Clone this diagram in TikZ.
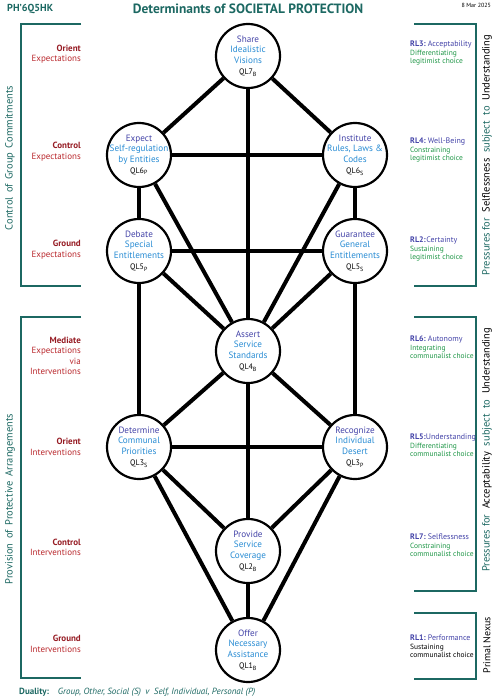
\documentclass[tikz,border=0pt]{standalone}
\usepackage{fontspec}
\setmainfont{PT Sans}
\usetikzlibrary{positioning}
\definecolor{tealdark}{RGB}{28,104,98}
\definecolor{reddark}{RGB}{150,28,36}
\definecolor{redlight}{RGB}{185,40,45}
\definecolor{bluedark}{RGB}{68,68,168}
\definecolor{bluelight}{RGB}{40,140,212}
\definecolor{greenchoice}{RGB}{30,150,70}
\tikzset{ql/.style={circle, draw, line width=2.2bp, minimum size=64bp, inner sep=0pt, fill=white},
  qltext/.style={align=center, text=bluelight, inner sep=0pt,
    font=\fontsize{9.2}{10.4}\selectfont},
  link/.style={line width=4bp},
  bracket/.style={draw=tealdark, line width=2bp},
  lefttag/.style={anchor=east, align=right, inner sep=0pt, text=redlight,
    font=\fontsize{9}{10.5}\selectfont},
  righttag/.style={anchor=west, align=left, inner sep=0pt, text=greenchoice,
    font=\fontsize{7.5}{8.3}\selectfont},
  sidetag/.style={rotate=90, inner sep=0pt, text=tealdark}}
\newcommand{\qlname}[2]{{\color{black}\fontsize{8}{9}\selectfont #1\textsubscript{#2}}}
\newcommand{\rlname}[2]{{\color{bluedark}\fontsize{8}{9.5}\selectfont\textbf{#1:}\ #2}}
\begin{document}
\begin{tikzpicture}[x=1bp, y=-1bp]
  \useasboundingbox (0,0) rectangle (495,700);
  % header
  \node[anchor=west, inner sep=0pt, text=tealdark, font=\bfseries\fontsize{10.2}{11}\selectfont]
    (code) at (7,9) {PH’6Q5HK};
  \node[inner sep=0pt, text=tealdark, font=\bfseries\fontsize{13.5}{15}\selectfont]
    (title) at (248,9) {Determinants of SOCIETAL PROTECTION};
  \node[anchor=east, inner sep=0pt, font=\fontsize{6}{7}\selectfont]
    (date) at (491,5) {8 Mar 2025};
  % tree
  \node[ql, label={[qltext]center:{\color{bluedark}Share\\Idealistic\\Visions\\[1pt]\qlname{QL7}{B}}}] (ql7) at (248,56) {};
  \node[ql, label={[qltext]center:{\color{bluedark}Expect\\Self-regulation\\by Entities\\[1pt]\qlname{QL6}{P}}}] (ql6p) at (139,155) {};
  \node[ql, label={[qltext]center:{\color{bluedark}Institute\\Rules, Laws \&\\Codes\\[1pt]\qlname{QL6}{S}}}] (ql6s) at (355,155) {};
  \node[ql, label={[qltext]center:{\color{bluedark}Debate\\Special\\Entitlements\\[1pt]\qlname{QL5}{P}}}] (ql5p) at (139,251) {};
  \node[ql, label={[qltext]center:{\color{bluedark}Guarantee\\General\\Entitlements\\[1pt]\qlname{QL5}{S}}}] (ql5s) at (355,251) {};
  \node[ql, label={[qltext]center:{\color{bluedark}Assert\\Service\\Standards\\[1pt]\qlname{QL4}{B}}}] (ql4) at (248,351) {};
  \node[ql, label={[qltext]center:{\color{bluedark}Determine\\Communal\\Priorities\\[1pt]\qlname{QL3}{S}}}] (ql3s) at (139,447) {};
  \node[ql, label={[qltext]center:{\color{bluedark}Recognize\\Individual\\Desert\\[1pt]\qlname{QL3}{P}}}] (ql3p) at (355,447) {};
  \node[ql, label={[qltext]center:{\color{bluedark}Provide\\Service\\Coverage\\[1pt]\qlname{QL2}{B}}}] (ql2) at (248,551) {};
  \node[ql, label={[qltext]center:{\color{bluedark}Offer\\Necessary\\Assistance\\[1pt]\qlname{QL1}{B}}}] (ql1) at (248,650) {};
  \foreach \a/\b in {ql7/ql6p, ql7/ql6s, ql7/ql4, ql6p/ql6s, ql6p/ql5p, ql6p/ql4,
      ql6s/ql5s, ql6s/ql4, ql5p/ql5s, ql5p/ql4, ql5p/ql3s, ql5s/ql4, ql5s/ql3p,
      ql4/ql3s, ql4/ql3p, ql4/ql2, ql3s/ql3p, ql3s/ql2, ql3s/ql1, ql3p/ql2,
      ql3p/ql1, ql2/ql1}
    \draw[link] (\a) -- (\b);
  % left brackets
  \draw[bracket] (81,24) -- (21,24) -- (21,286) -- (81,286);
  \draw[bracket] (81,317) -- (21,317) -- (21,678) -- (81,678);
  \node[sidetag, font=\fontsize{10.5}{12}\selectfont] (commit) at (10,158)
    {Control\ \,of\ \,Group\ \,Commitments};
  \node[sidetag, font=\fontsize{10.5}{12}\selectfont] (arrange) at (10,499)
    {Provision\ \,of\ \,Protective\ \,Arrangements};
  \node[lefttag] (orexp) at (81,54) {{\color{reddark}\bfseries Orient}\\Expectations};
  \node[lefttag] (coexp) at (81,151.5) {{\color{reddark}\bfseries Control}\\Expectations};
  \node[lefttag] (grexp) at (81,249.5) {{\color{reddark}\bfseries Ground}\\Expectations};
  \node[lefttag] (meexp) at (81,356) {{\color{reddark}\bfseries Mediate}\\Expectations\\via\\Interventions};
  \node[lefttag] (orint) at (81,447) {{\color{reddark}\bfseries Orient}\\Interventions};
  \node[lefttag] (coint) at (81,547.5) {{\color{reddark}\bfseries Control}\\Interventions};
  \node[lefttag] (grint) at (81,644) {{\color{reddark}\bfseries Ground}\\Interventions};
  % right brackets
  \draw[bracket] (414,24) -- (476,24) -- (476,286) -- (414,286);
  \draw[bracket] (414,317) -- (476,317) -- (476,591) -- (414,591);
  \draw[bracket] (414,613) -- (476,613) -- (476,679) -- (414,679);
  \node[sidetag, text=black, font=\fontsize{10.5}{12}\selectfont] (selfless) at (487,155)
    {{\color{tealdark}Pressures\ for}\ \ Selflessness\ \ {\color{tealdark}subject\ \ to}\ \ Understanding};
  \node[sidetag, text=black, font=\fontsize{10.5}{12}\selectfont] (accept) at (487,450)
    {{\color{tealdark}Pressures\ for}\ \ Acceptability\ \ {\color{tealdark}subject\ \ to}\ \ Understanding};
  \node[sidetag, text=black, font=\fontsize{10}{12}\selectfont] (nexus) at (487,645)
    {Primal Nexus};
  \node[righttag] (rl3) at (410,53) {\rlname{RL3}{Acceptability}\\[1pt]Differentiating\\legitimist choice};
  \node[righttag] (rl4) at (410,150) {\rlname{RL4}{Well-Being}\\[1pt]Constraining\\legitimist choice};
  \node[righttag] (rl2) at (410,249) {\rlname{RL2}{\kern-1.5bp Certainty}\\[1pt]Sustaining\\legitimist choice};
  \node[righttag] (rl6) at (410,347) {\rlname{RL6}{Autonomy}\\[1pt]Integrating\\communalist choice};
  \node[righttag] (rl5) at (410,445) {\rlname{RL5}{\kern-2bp Understanding}\\[1pt]Differentiating\\communalist choice};
  \node[righttag] (rl7) at (410,545) {\rlname{RL7}{Selflessness}\\[1pt]Constraining\\communalist choice};
  \node[righttag, text=black] (rl1) at (410,646) {\rlname{RL1}{Performance}\\[1pt]Sustaining\\communalist choice};
  % footer
  \node[anchor=west, inner sep=0pt, text=tealdark, font=\fontsize{9}{10}\selectfont]
    (duality) at (19,692) {\textbf{Duality:}\quad\textit{Group, Other, Social (S)\enspace v\enspace Self, Individual, Personal (P)}};
\end{tikzpicture}
\end{document}
